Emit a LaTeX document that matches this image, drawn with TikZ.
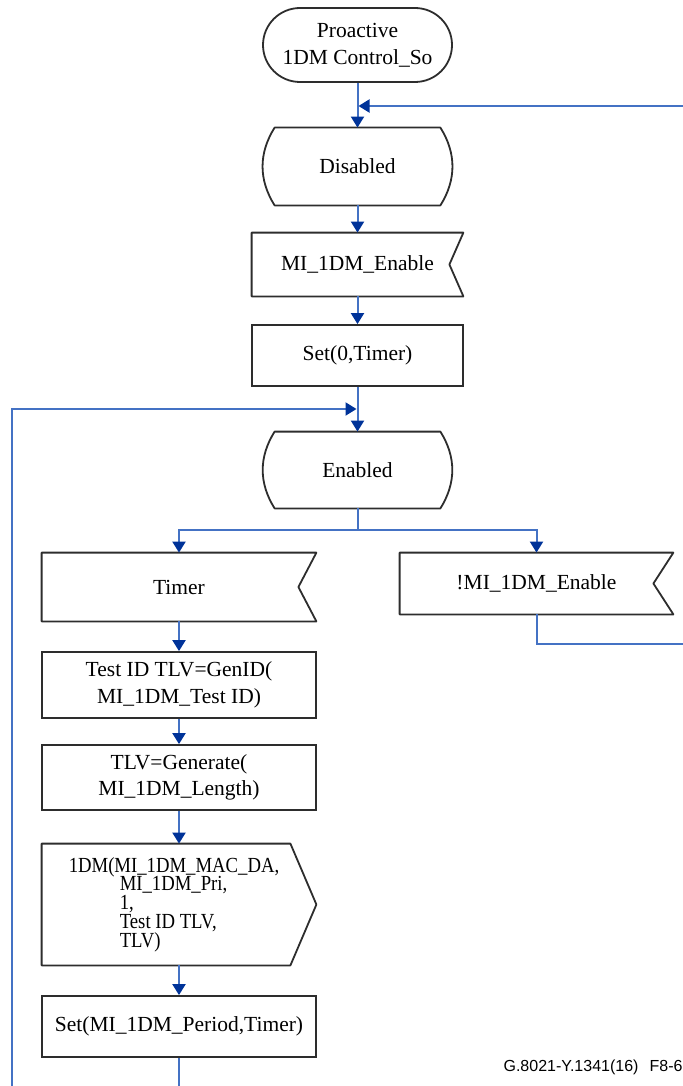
\documentclass[tikz,border=0pt]{standalone}
\usepackage{fontspec}
\setmainfont{Liberation Serif}
\newfontfamily\figfont{Liberation Sans}
\newfontfamily\condfont[FakeStretch=0.87]{Liberation Serif}
\usetikzlibrary{arrows.meta,calc}
\definecolor{LineClr}{RGB}{68,114,196}
\definecolor{TipClr}{RGB}{0,51,153}
\definecolor{BoxClr}{RGB}{45,45,45}
\newcommand\tightlines{\lineskiplimit=-6pt\relax\lineskip=0pt\relax}

\begin{document}
\begin{tikzpicture}[x=0.5pt,y=-0.5pt,
  txt/.style={inner sep=0pt, align=center, font=\fontsize{10.75}{13.3}\selectfont},
  term/.style={txt, draw=BoxClr, line width=0.9pt, rounded corners=18.5pt, minimum width=94.5pt, minimum height=37pt},
  box/.style={txt, draw=BoxClr, line width=0.9pt},
  blank/.style={txt},   % outline drawn by hand below
  flow/.style={draw=LineClr, line width=1pt, -{Triangle[length=5.5pt,width=6.5pt,color=TipClr]}},
  wire/.style={draw=LineClr, line width=1pt},
  outline/.style={draw=BoxClr, line width=0.9pt, line join=round}]
\useasboundingbox (0,0) rectangle (683,1086);

% upper column
\node[term] (start) at (357.5,45) {Proactive\\1DM Control\_So};
\node[blank, minimum width=94.5pt, minimum height=38.5pt] (disabled) at (357.5,166.5) {Disabled};
\node[blank, minimum width=105.5pt, minimum height=31.5pt] (enable) at (357.5,264.5) {MI\_1DM\_Enable};
\node[box, minimum width=105.5pt, minimum height=30.5pt] (settimer) at (357.5,355.5) {Set(0,Timer)};
\node[blank, minimum width=94.5pt, minimum height=38pt] (enabled) at (357.5,470) {Enabled};

% the two inputs
\node[blank, minimum width=137pt, minimum height=34pt] (timer) at (179,587) {Timer};
\node[blank, minimum width=136.5pt, minimum height=30.5pt] (notenable) at (536.5,583.5) {!MI\_1DM\_Enable};

% timer branch
\node[box, minimum width=137pt, minimum height=33pt] (genid) at (179,685) {Test ID TLV=GenID(\\MI\_1DM\_Test ID)};
\node[box, minimum width=137pt, minimum height=32.5pt] (generate) at (179,777.5) {TLV=Generate(\\MI\_1DM\_Length)};
\node[blank, minimum width=137pt, minimum height=60.5pt, align=left,
  font=\condfont\fontsize{10.75}{9.35}\selectfont\tightlines] (onedm) at (179,904.5)
  {1DM(MI\_1DM\_MAC\_DA,\hspace*{5pt}\\\hspace*{25.5pt}MI\_1DM\_Pri,\\\hspace*{25.5pt}1,\\\hspace*{25.5pt}Test ID TLV,\\\hspace*{25.5pt}TLV)};
\node[box, minimum width=137pt, minimum height=30.5pt] (setperiod) at (179,1026.5) {Set(MI\_1DM\_Period,Timer)};

\node[inner sep=0pt, anchor=east, font=\figfont\fontsize{8}{9.6}\selectfont] (figref) at (683,1067) {G.8021-Y.1341(16)\hspace{0.7em}F8-6};

% state symbols
\foreach \s in {disabled,enabled}
  \draw[outline] ([xshift=6pt]\s.north west) -- ([xshift=-6pt]\s.north east)
    to[bend left=32] ([xshift=-6pt]\s.south east) -- ([xshift=6pt]\s.south west)
    to[bend left=32] ([xshift=6pt]\s.north west) -- cycle;

% input signals (notch on the right)
\draw[outline] (enable.north west) -- (enable.north east) -- ([xshift=-7pt]enable.east) -- (enable.south east) -- (enable.south west) -- cycle;
\draw[outline] (timer.north west) -- (timer.north east) -- ([xshift=-9pt]timer.east) -- (timer.south east) -- (timer.south west) -- cycle;
\draw[outline] (notenable.north west) -- (notenable.north east) -- ([xshift=-10pt]notenable.east) -- (notenable.south east) -- (notenable.south west) -- cycle;

% output signal
\draw[outline] (onedm.north west) -- ([xshift=-13pt]onedm.north east) -- (onedm.east) -- ([xshift=-13pt]onedm.south east) -- (onedm.south west) -- cycle;

% connectors
\coordinate (join1) at (357.5,106);
\coordinate (join2) at (357.5,409);
\coordinate (split) at (357.5,530);
\coordinate (rrail) at (687,644);
\coordinate (lrail) at (12,1100);

\draw[flow] (start.south) -- (disabled.north);
\draw[flow] (disabled.south) -- (enable.north);
\draw[flow] (enable.south) -- (settimer.north);
\draw[flow] (settimer.south) -- (enabled.north);
\draw[wire] (enabled.south) -- (split);
\draw[flow] (split) -| (timer.north);
\draw[flow] (split) -| (notenable.north);
\draw[flow] (timer.south) -- (genid.north);
\draw[flow] (genid.south) -- (generate.north);
\draw[flow] (generate.south) -- (onedm.north);
\draw[flow] (onedm.south) -- (setperiod.north);

% loops back
\draw[flow, shorten >=0.5pt] (notenable.south) |- (rrail) |- (join1);
\draw[flow, shorten >=0.5pt] (setperiod.south) |- (lrail) |- (join2);
\end{tikzpicture}
\end{document}
